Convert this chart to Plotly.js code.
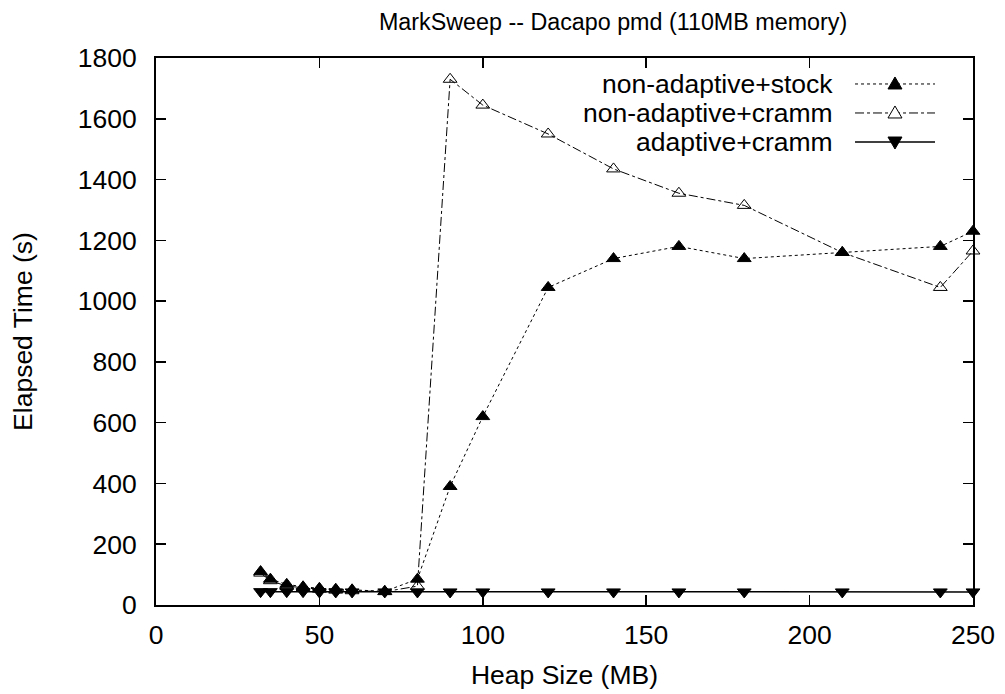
<!DOCTYPE html>
<html>
<head>
<meta charset="utf-8">
<script src="https://cdn.plot.ly/plotly-3.0.1.min.js"></script>
<style>html,body{margin:0;padding:0;background:#fff;}#chart{width:1005px;height:694px;}</style>
</head>
<body>
<div id="chart"></div>
<script>
const heapSizes = [32, 35, 40, 45, 50, 55, 60, 70, 80, 90, 100, 120, 140, 160, 180, 210, 240, 250];
const stockTimes = [110, 85, 68, 60, 55, 52, 50, 45, 85, 390, 620, 1045, 1140, 1180, 1140, 1160, 1180, 1230];
const crammTimes = [105, 80, 62, 56, 52, 49, 47, 44, 62, 1730, 1645, 1550, 1435, 1355, 1315, 1160, 1045, 1165];
const adaptiveTimes = [44, 44, 44, 44, 43, 43, 43, 43, 43, 43, 43, 43, 43, 43, 43, 43, 43, 43];
const seriesNames = ["non-adaptive+stock", "non-adaptive+cramm", "adaptive+cramm"];
const xTicks = [0, 50, 100, 150, 200, 250];
const yTicks = [0, 200, 400, 600, 800, 1000, 1200, 1400, 1600, 1800];

const font = "Liberation Sans, Arial, Helvetica, sans-serif";
const lineDash = ["dot", "dashdot", "solid"];
const lineWidth = [1, 1, 1.5];
const markerSymbol = ["triangle-up", "triangle-up-open", "triangle-down"];
const seriesY = [stockTimes, crammTimes, adaptiveTimes];

const traces = seriesNames.map((n, i) => ({
  x: heapSizes, y: seriesY[i], name: n, type: "scatter", mode: "lines+markers",
  line: {color: "#000", width: lineWidth[i], dash: lineDash[i]},
  marker: {symbol: markerSymbol[i], size: 12, color: "#000", line: {color: "#000", width: 1}},
  cliponaxis: false, showlegend: false
}));

// custom legend (text right-aligned, sample on the right), gnuplot style
const legRowY = [0.9525, 0.8995, 0.8464];
const legTextX = 0.831, legLineX0 = 0.8556, legLineX1 = 0.9535, legMarkX = 0.9045;
const annotations = [];
const shapes = [];
// pixel-sized shape paths: positive y points upward
const triUp = "M-7,-5 L7,-5 L0,7 Z";
const triDown = "M-7,5 L7,5 L0,-7 Z";
const markPaths = [triUp, triUp, triDown];
const markFill = ["#000", "#fff", "#000"];
seriesNames.forEach((n, i) => {
  annotations.push({xref: "paper", yref: "paper", x: legTextX, y: legRowY[i], xanchor: "right", yanchor: "middle",
    text: n, showarrow: false, font: {family: font, size: 26.5, color: "#000"}});
  shapes.push({type: "line", xref: "paper", yref: "paper", x0: legLineX0, x1: legLineX1, y0: legRowY[i], y1: legRowY[i],
    line: {color: "#000", width: lineWidth[i], dash: lineDash[i]}});
  shapes.push({type: "path", xref: "paper", yref: "paper", xsizemode: "pixel", ysizemode: "pixel",
    xanchor: legMarkX, yanchor: legRowY[i], path: markPaths[i],
    fillcolor: markFill[i], line: {color: "#000", width: 1}});
});

const axisCommon = {
  showline: true, linecolor: "#000", linewidth: 2, mirror: "ticks",
  ticks: "inside", ticklen: 10, tickwidth: 1.5, tickcolor: "#000",
  showgrid: false, zeroline: false,
  tickfont: {family: font, size: 26.5, color: "#000"}
};

const layout = {
  width: 1005, height: 694,
  margin: {l: 156, r: 32, t: 58, b: 89},
  paper_bgcolor: "#fff", plot_bgcolor: "#fff",
  font: {family: font, color: "#000"},
  title: {text: "MarkSweep -- Dacapo pmd (110MB memory)", font: {family: font, size: 23.3, color: "#000"},
          x: 0.61, xanchor: "center", y: 0.968, yanchor: "middle"},
  xaxis: Object.assign({}, axisCommon, {
    range: [0, 250], tickvals: xTicks, ticklabelstandoff: 5,
    title: {text: "Heap Size (MB)", font: {family: font, size: 26.5, color: "#000"}, standoff: 17}
  }),
  yaxis: Object.assign({}, axisCommon, {
    range: [0, 1800], tickvals: yTicks, ticklabelstandoff: 12,
    title: {text: "Elapsed Time (s)", font: {family: font, size: 26.5, color: "#000"}, standoff: 37}
  }),
  showlegend: false,
  annotations: annotations,
  shapes: shapes
};

Plotly.newPlot("chart", traces, layout, {displayModeBar: false, staticPlot: true});
</script>
</body>
</html>
